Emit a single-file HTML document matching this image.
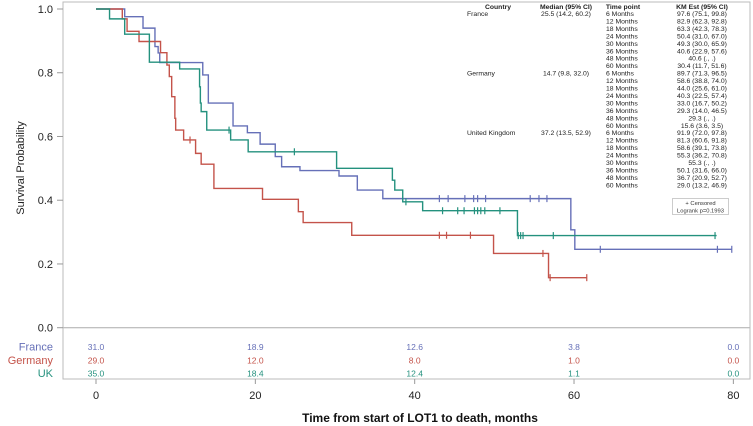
<!DOCTYPE html>
<html><head><meta charset="utf-8"><style>
body{margin:0;background:#fff;}
svg{display:block;font-family:"Liberation Sans",Arial,sans-serif;}
</style></head><body>
<svg id="km" width="753" height="426" viewBox="0 0 753 426"></svg>
<script>
// ---- data ----
const countries = ["France","Germany","UK"];
const franceT = [0,3.6,5.9,7.4,7.8,8.0,13.4,14.1,17.2,19.0,20.6,22.5,23.3,25.6,30.5,32.8,36.0,59.6,60.1];
const franceS = [1,0.976,0.94,0.882,0.862,0.832,0.793,0.705,0.633,0.612,0.576,0.537,0.505,0.493,0.476,0.432,0.405,0.307,0.246];
const franceEnd = 79.8;
const franceCens = [43.1,44.2,46.3,47.4,47.9,48.9,54.5,55.6,56.6,63.3,78.0,79.8];
const germanyT = [0,3.3,3.9,5.4,8.1,8.9,9.2,9.5,9.9,10.0,11.0,12.5,13.2,14.8,20.9,25.4,26.0,32.1,49.9,56.8];
const germanyS = [1,0.969,0.930,0.898,0.863,0.824,0.788,0.725,0.657,0.620,0.589,0.547,0.513,0.437,0.403,0.364,0.330,0.290,0.233,0.157];
const germanyEnd = 61.6;
const germanyCens = [11.8,43.1,44.0,47.0,56.1,57.0,61.6];
const ukT = [0,1.7,3.6,6.7,10.5,13.0,13.1,13.2,13.9,16.9,19.1,30.2,37.2,37.5,38.5,41.0,52.9];
const ukS = [1,0.969,0.921,0.833,0.812,0.756,0.705,0.678,0.620,0.589,0.552,0.500,0.463,0.432,0.395,0.367,0.289];
const ukEnd = 77.9;
const ukCens = [16.7,24.9,38.9,43.5,45.4,46.2,47.5,47.9,48.3,48.8,50.7,53.0,53.3,53.6,57.4,77.7];
const xTicks = [0,20,40,60,80];
const yTicks = [0,0.2,0.4,0.6,0.8,1.0];
const riskFrance = ["31.0","18.9","12.6","3.8","0.0"];
const riskGermany = ["29.0","12.0","8.0","1.0","0.0"];
const riskUK = ["35.0","18.4","12.4","1.1","0.0"];
const colors = {France:"#6670b8",Germany:"#c4534a",UK:"#24917e"};

const X = m => 96 + m*7.967;
const Y = s => 327.7 - s*318.7;
const svg = document.getElementById('km');
const NS = "http://www.w3.org/2000/svg";
function mk(tag, attrs, text){const e=document.createElementNS(NS,tag);for(const k in attrs)e.setAttribute(k,attrs[k]);if(text!==undefined)e.textContent=text;svg.appendChild(e);return e;}

// frames
let e;
e=mk('rect',{x:63,y:2,width:687,height:325.7,fill:'none',stroke:'#bbb','stroke-width':1});

e=mk('rect',{x:63,y:327.7,width:687,height:51.3,fill:'none',stroke:'#bbb','stroke-width':1});


// y axis
yTicks.forEach(v=>{
  mk('line',{x1:57,x2:63,y1:Y(v),y2:Y(v),stroke:'#999'});
  e=mk('text',{x:53,y:Y(v)+4,'text-anchor':'end','font-size':11,fill:'#222'},v.toFixed(1));
  
});
e=mk('text',{x:0,y:0,transform:'translate(24,168) rotate(-90)','text-anchor':'middle','font-size':11,fill:'#222'},'Survival Probability');


// x axis
xTicks.forEach(v=>{
  mk('line',{x1:X(v),x2:X(v),y1:379,y2:384,stroke:'#999'});
  e=mk('text',{x:X(v),y:399,'text-anchor':'middle','font-size':11,fill:'#222'},String(v));
  
});
e=mk('text',{x:420,y:422,'text-anchor':'middle','font-size':12,'font-weight':'bold',fill:'#111'},'Time from start of LOT1 to death, months');


// curves
function curve(name,T,S,end,cens){
  let d='M'+X(T[0])+' '+Y(S[0]);
  for(let i=1;i<T.length;i++){d+=' H'+X(T[i])+' V'+Y(S[i]);}
  d+=' H'+X(end);
  const p=mk('path',{d:d,fill:'none',stroke:colors[name],'stroke-width':1.4});
  
  
  cens.forEach(c=>{
    let s=S[0];for(let i=0;i<T.length;i++){if(T[i]<=c)s=S[i];}
    const l=mk('line',{x1:X(c),x2:X(c),y1:Y(s)-3.5,y2:Y(s)+3.5,stroke:colors[name],'stroke-width':1.2});
    
    
  });
}
curve('France',franceT,franceS,franceEnd,franceCens);
curve('Germany',germanyT,germanyS,germanyEnd,germanyCens);
curve('UK',ukT,ukS,ukEnd,ukCens);

// risk table
const riskRows=[riskFrance,riskGermany,riskUK];
const rowY=[350.5,364,377];
countries.forEach((c,i)=>{
  e=mk('text',{x:53,y:rowY[i],'text-anchor':'end','font-size':11,fill:colors[c]},c);
  
  riskRows[i].forEach((v,j)=>{
    e=mk('text',{x:X(xTicks[j]),y:rowY[i]-0.5,'text-anchor':'middle','font-size':8.5,fill:colors[c]},v);
    
  });
});

// inset table
const insetHdr=[["Country",498],["Median (95% CI)",566],["Time point",623],["KM Est (95% CI)",702]];
insetHdr.forEach(h=>{e=mk('text',{x:h[1],y:9,'text-anchor':'middle','font-size':6.8,'font-weight':'bold',fill:'#222'},h[0]);
  });
const tp=["6 Months","12 Months","18 Months","24 Months","30 Months","36 Months","48 Months","60 Months"];
const km=[["97.6 (75.1, 99.8)","82.9 (62.3, 92.8)","63.3 (42.3, 78.3)","50.4 (31.0, 67.0)","49.3 (30.0, 65.9)","40.6 (22.9, 57.6)","40.6 (., .)","30.4 (11.7, 51.6)"],
["89.7 (71.3, 96.5)","58.6 (38.8, 74.0)","44.0 (25.6, 61.0)","40.3 (22.5, 57.4)","33.0 (16.7, 50.2)","29.3 (14.0, 46.5)","29.3 (., .)","15.6 (3.6, 3.5)"],
["91.9 (72.0, 97.8)","81.3 (60.6, 91.8)","58.6 (39.1, 73.8)","55.3 (36.2, 70.8)","55.3 (., .)","50.1 (31.6, 66.0)","36.7 (20.9, 52.7)","29.0 (13.2, 46.9)"]];
const cn=["France","Germany","United Kingdom"];
const med=["25.5 (14.2, 60.2)","14.7 (9.8, 32.0)","37.2 (13.5, 52.9)"];
for(let g=0;g<3;g++){
  const y0=16+g*8*7.45;
  e=mk('text',{x:467,y:y0,'font-size':6.8,fill:'#222'},cn[g]);
  e=mk('text',{x:566,y:y0,'text-anchor':'middle','font-size':6.8,fill:'#222'},med[g]);
  for(let r=0;r<8;r++){
    const y=y0+r*7.45;
    e=mk('text',{x:606,y:y,'font-size':6.8,fill:'#222'},tp[r]);
    e=mk('text',{x:702,y:y,'text-anchor':'middle','font-size':6.8,fill:'#222'},km[g][r]);
  }
}
// legend box
e=mk('rect',{x:672.5,y:198.5,width:56,height:16,fill:'#fff',stroke:'#ccc'});

e=mk('text',{x:700.5,y:205,'text-anchor':'middle','font-size':5.8,fill:'#333'},'+ Censored');

e=mk('text',{x:700.5,y:212.5,'text-anchor':'middle','font-size':5.8,fill:'#333'},'Logrank p=0.1993');

</script>
</body></html>
